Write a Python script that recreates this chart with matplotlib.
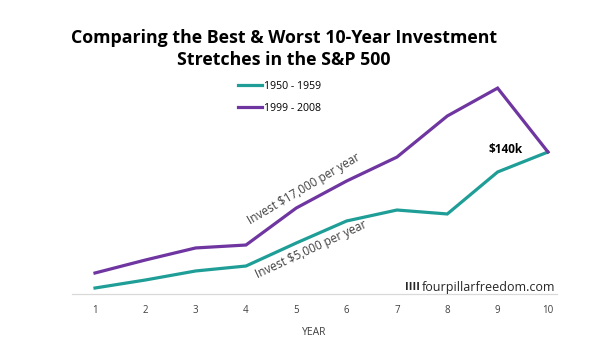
import matplotlib
matplotlib.use("Agg")
import matplotlib.pyplot as plt
from matplotlib.lines import Line2D

years = [1, 2, 3, 4, 5, 6, 7, 8, 9, 10]
best_1950s = [5.9, 13.8, 22.7, 27.6, 50.3, 72.0, 82.8, 78.9, 120.3, 140.0]   # $k, $5,000 per year
worst_1999 = [20.7, 33.5, 45.4, 48.3, 84.8, 111.4, 135.0, 175.5, 203.0, 140.0]  # $k, $17,000 per year
series_labels = ["1950 - 1959", "1999 - 2008"]
final_label = "$140k"

TEAL = "#1f9e97"
PURPLE = "#6f35a0"
TEXT = "#404040"

plt.rcParams['font.family'] = ['Open Sans', 'DejaVu Sans']

fig = plt.figure(figsize=(6.08, 3.49), dpi=100)
ax = fig.add_axes([72 / 608, 55 / 349, 485 / 608, 213 / 349])

ax.plot(years, best_1950s, color=TEAL, lw=2.3, solid_joinstyle='miter')
ax.plot(years, worst_1999, color=PURPLE, lw=2.3, solid_joinstyle='miter')

ax.set_xlim(0.543, 10.18)
ax.set_ylim(0, 210)
ax.set_xticks(years)
ax.set_xticklabels([str(y) for y in years], fontsize=7, color=TEXT)
ax.tick_params(axis='x', length=0, pad=8)
ax.set_yticks([])
for s in ['top', 'right', 'left']:
    ax.spines[s].set_visible(False)
ax.spines['bottom'].set_color('#d9d9d9')
ax.spines['bottom'].set_linewidth(0.9)
ax.set_xlabel("YEAR", fontsize=7.5, color=TEXT, labelpad=8)

# title
fig.text(284 / 608, 1 - 38 / 349, "Comparing the Best & Worst 10-Year Investment",
         ha='center', va='center', fontsize=12.8, fontweight='bold', color='black')
fig.text(284 / 608, 1 - 60 / 349, "Stretches in the S&P 500",
         ha='center', va='center', fontsize=12.8, fontweight='bold', color='black')

# legend
handles = [Line2D([], [], color=TEAL, lw=2.3), Line2D([], [], color=PURPLE, lw=2.3)]
leg = fig.legend(handles, series_labels, loc='upper left',
                 bbox_to_anchor=(238 / 608, 1 - 81 / 349), frameon=False,
                 fontsize=7.6, handlelength=2.3, handletextpad=0.2,
                 labelspacing=1.05, borderaxespad=0, borderpad=0)
for t in leg.get_texts():
    t.set_color('black')

# line annotations
ax.text(5.16, 104, "Invest $17,000 per year", rotation=30.5, ha='center', va='center',
        fontsize=8.5, color=TEXT, rotation_mode='anchor')
ax.text(5.29, 44, "Invest $5,000 per year", rotation=25, ha='center', va='center',
        fontsize=8.5, color=TEXT, rotation_mode='anchor')

ax.text(9.5, best_1950s[-1] + 2, final_label, ha='right', va='center',
        fontsize=8.5, fontweight='bold', color='black')

# site credit
fig.text(555 / 608, 1 - 287 / 349, "fourpillarfreedom.com", ha='right', va='center',
         fontsize=9, color='#262626')
fig.text(405 / 608, 1 - 287 / 349, "IIII", ha='left', va='center',
         fontsize=8, fontweight='bold', color='#262626')

fig.savefig("out.png", dpi=100)
